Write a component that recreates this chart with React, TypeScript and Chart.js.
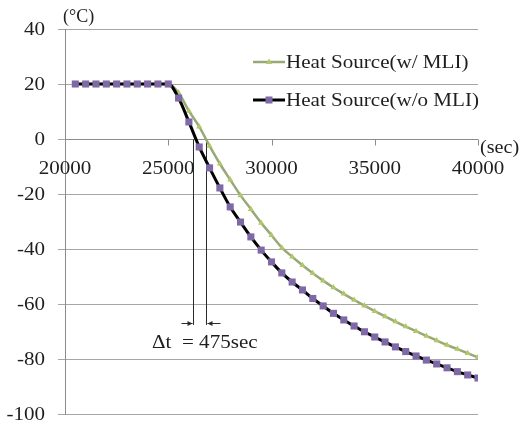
import React, { useEffect, useRef } from 'react';
import { Chart, registerables } from 'chart.js';

Chart.register(...registerables);

const times = [
  20500, 21000, 21500, 22000, 22500, 23000, 23500, 24000, 24500, 25000,
  25500, 26000, 26500, 27000, 27500, 28000, 28500, 29000, 29500, 30000,
  30500, 31000, 31500, 32000, 32500, 33000, 33500, 34000, 34500, 35000,
  35500, 36000, 36500, 37000, 37500, 38000, 38500, 39000, 39500, 40000,
];

const withMLI = [
  20, 20, 20, 20, 20, 20, 20, 20, 20, 20,
  16.8, 10.2, 4.5, -2.5, -9, -14.8, -20.5, -25.5, -30.5, -35,
  -39.5, -42.8, -45.9, -48.8, -51.5, -54, -56.3, -58.5, -60.6, -62.6,
  -64.5, -66.4, -68.2, -69.9, -71.6, -73.3, -74.9, -76.4, -77.9, -79.4,
];

const withoutMLI = [
  20, 20, 20, 20, 20, 20, 20, 20, 20, 20,
  14.9, 6.2, -2.9, -10.5, -17.8, -24.7, -30.2, -35.6, -40.4, -44.7,
  -48.7, -52, -54.9, -58, -60.7, -63.4, -65.8, -68, -70.1, -72,
  -73.8, -75.6, -77.3, -78.9, -80.4, -81.8, -83.2, -84.6, -85.8, -86.9,
];

const seriesNames = ['Heat Source(w/ MLI)', 'Heat Source(w/o MLI)'];
const yTicks = [40, 20, 0, -20, -40, -60, -80, -100];
const xTicks = [20000, 25000, 30000, 35000, 40000];
const deltaTimes = [26200, 26830];
const deltaLineBottom = -67.6;
const deltaArrowAt = -67;
const deltaLabel = 'Δt  = 475sec';
const yUnit = '(°C)';
const xUnit = '(sec)';

const FONT = '"Liberation Serif", "Times New Roman", serif';
const SX = 1.17;
const TEXT = '#1e1e1e';
const GREEN_LINE = '#98a878';
const GREEN_MARK = '#b2c866';
const PURPLE = '#7f68a6';

function stretchText(
  ctx: CanvasRenderingContext2D,
  text: string,
  x: number,
  y: number,
  align: CanvasTextAlign,
  sx: number,
  size: number
) {
  ctx.save();
  ctx.font = `${size}px ${FONT}`;
  ctx.fillStyle = TEXT;
  ctx.textBaseline = 'middle';
  ctx.textAlign = align;
  ctx.translate(x, y);
  ctx.scale(sx, 1);
  ctx.fillText(text, 0, 0);
  ctx.restore();
}

function drawTriangle(ctx: CanvasRenderingContext2D, cx: number, cy: number, r: number) {
  ctx.beginPath();
  ctx.moveTo(cx, cy - r);
  ctx.lineTo(cx + r * 0.9, cy + r * 0.6);
  ctx.lineTo(cx - r * 0.9, cy + r * 0.6);
  ctx.closePath();
  ctx.fillStyle = GREEN_MARK;
  ctx.fill();
}

const customPlugin = {
  id: 'customDecor',
  beforeDatasetsDraw(chart: any) {
    const { ctx, chartArea, scales } = chart;
    const x = scales.x;
    const y = scales.y;
    const y0 = Math.round(y.getPixelForValue(0)) + 0.5;
    ctx.save();
    ctx.strokeStyle = '#8c8c8c';
    ctx.lineWidth = 1;
    ctx.beginPath();
    ctx.moveTo(chartArea.left, y0);
    ctx.lineTo(chartArea.right, y0);
    xTicks.forEach((v) => {
      const px = Math.round(x.getPixelForValue(v)) + 0.5;
      ctx.moveTo(px, y0);
      ctx.lineTo(px, y0 + 6);
    });
    ctx.stroke();

    // delta-t annotation lines
    ctx.strokeStyle = '#2a2a2a';
    ctx.lineWidth = 1;
    const yb = y.getPixelForValue(deltaLineBottom);
    const ya = Math.round(y.getPixelForValue(deltaArrowAt)) + 0.5;
    const xs = deltaTimes.map((v) => Math.round(x.getPixelForValue(v)) + 0.5);
    ctx.beginPath();
    xs.forEach((px) => {
      ctx.moveTo(px, y0);
      ctx.lineTo(px, yb);
    });
    // arrows shafts
    ctx.moveTo(xs[0] - 12, ya);
    ctx.lineTo(xs[0] - 1, ya);
    ctx.moveTo(xs[1] + 14, ya);
    ctx.lineTo(xs[1] + 1, ya);
    ctx.stroke();
    ctx.fillStyle = '#2a2a2a';
    ctx.beginPath();
    ctx.moveTo(xs[0] - 1, ya);
    ctx.lineTo(xs[0] - 6, ya - 2.5);
    ctx.lineTo(xs[0] - 6, ya + 2.5);
    ctx.closePath();
    ctx.moveTo(xs[1] + 1, ya);
    ctx.lineTo(xs[1] + 6, ya - 2.5);
    ctx.lineTo(xs[1] + 6, ya + 2.5);
    ctx.closePath();
    ctx.fill();
    ctx.restore();
  },
  afterDraw(chart: any) {
    const { ctx, chartArea, scales } = chart;
    const x = scales.x;
    const y = scales.y;
    const y0 = y.getPixelForValue(0);

    yTicks.forEach((v) => {
      stretchText(ctx, String(v), chartArea.left - 20, y.getPixelForValue(v) + 1, 'right', SX, 18);
    });
    xTicks.forEach((v) => {
      stretchText(ctx, String(v), x.getPixelForValue(v), y0 + 30, 'center', SX, 18);
    });
    stretchText(ctx, yUnit, chartArea.left - 2, 17, 'left', 1.0, 18);
    stretchText(ctx, xUnit, chartArea.right + 2, y0 + 9, 'left', 1.12, 18);

    const xs = deltaTimes.map((v) => x.getPixelForValue(v));
    stretchText(ctx, deltaLabel, xs[0] - 41, y.getPixelForValue(deltaArrowAt) + 20, 'left', SX, 18);

    // legend
    const lx0 = 253;
    const lx1 = 285;
    const rows = [62, 100];
    ctx.save();
    ctx.lineWidth = 2.5;
    ctx.strokeStyle = GREEN_LINE;
    ctx.beginPath();
    ctx.moveTo(lx0, rows[0]);
    ctx.lineTo(lx1, rows[0]);
    ctx.stroke();
    drawTriangle(ctx, (lx0 + lx1) / 2, rows[0], 3.5);
    ctx.lineWidth = 3;
    ctx.strokeStyle = '#000';
    ctx.beginPath();
    ctx.moveTo(lx0, rows[1]);
    ctx.lineTo(lx1, rows[1]);
    ctx.stroke();
    ctx.fillStyle = PURPLE;
    ctx.fillRect((lx0 + lx1) / 2 - 3.5, rows[1] - 3.5, 7, 7);
    ctx.restore();
    stretchText(ctx, seriesNames[0], lx1 + 1, rows[0] + 1, 'left', SX, 18);
    stretchText(ctx, seriesNames[1], lx1 + 1, rows[1] + 1, 'left', SX, 18);
  },
};

export default function App() {
  const canvasRef = useRef<HTMLCanvasElement | null>(null);

  useEffect(() => {
    if (!canvasRef.current) return;
    const chart = new Chart(canvasRef.current, {
      type: 'line',
      data: {
        datasets: [
          {
            label: seriesNames[0],
            data: times.map((t, i) => ({ x: t, y: withMLI[i] })),
            borderColor: GREEN_LINE,
            borderWidth: 2.5,
            pointStyle: 'triangle',
            pointRadius: 3.5,
            pointBackgroundColor: GREEN_MARK,
            pointBorderColor: GREEN_MARK,
            pointBorderWidth: 0,
            cubicInterpolationMode: 'monotone',
            fill: false,
            order: 1,
          },
          {
            label: seriesNames[1],
            data: times.map((t, i) => ({ x: t, y: withoutMLI[i] })),
            borderColor: '#000000',
            borderWidth: 3,
            pointStyle: 'rect',
            pointRadius: 5,
            pointBackgroundColor: PURPLE,
            pointBorderColor: PURPLE,
            pointBorderWidth: 0,
            cubicInterpolationMode: 'monotone',
            fill: false,
            order: 0,
          },
        ],
      },
      options: {
        responsive: true,
        maintainAspectRatio: false,
        animation: false,
        layout: { padding: { left: 58, right: 44, top: 29, bottom: 10 } },
        plugins: {
          legend: { display: false },
          tooltip: { enabled: false },
        },
        scales: {
          x: { type: 'linear', min: 20000, max: 40000, display: false },
          y: {
            type: 'linear',
            min: -100,
            max: 40,
            ticks: { display: false, stepSize: 20 },
            grid: { color: '#a6a6a6', lineWidth: 1, tickLength: 7, drawTicks: true },
            border: { display: true, color: '#8c8c8c', width: 1 },
          },
        },
      },
      plugins: [customPlugin],
    });
    return () => chart.destroy();
  }, []);

  return (
    <div style={{ position: 'fixed', left: 0, top: 0, width: 522, height: 424, background: '#fff' }}>
      <canvas ref={canvasRef} />
    </div>
  );
}
